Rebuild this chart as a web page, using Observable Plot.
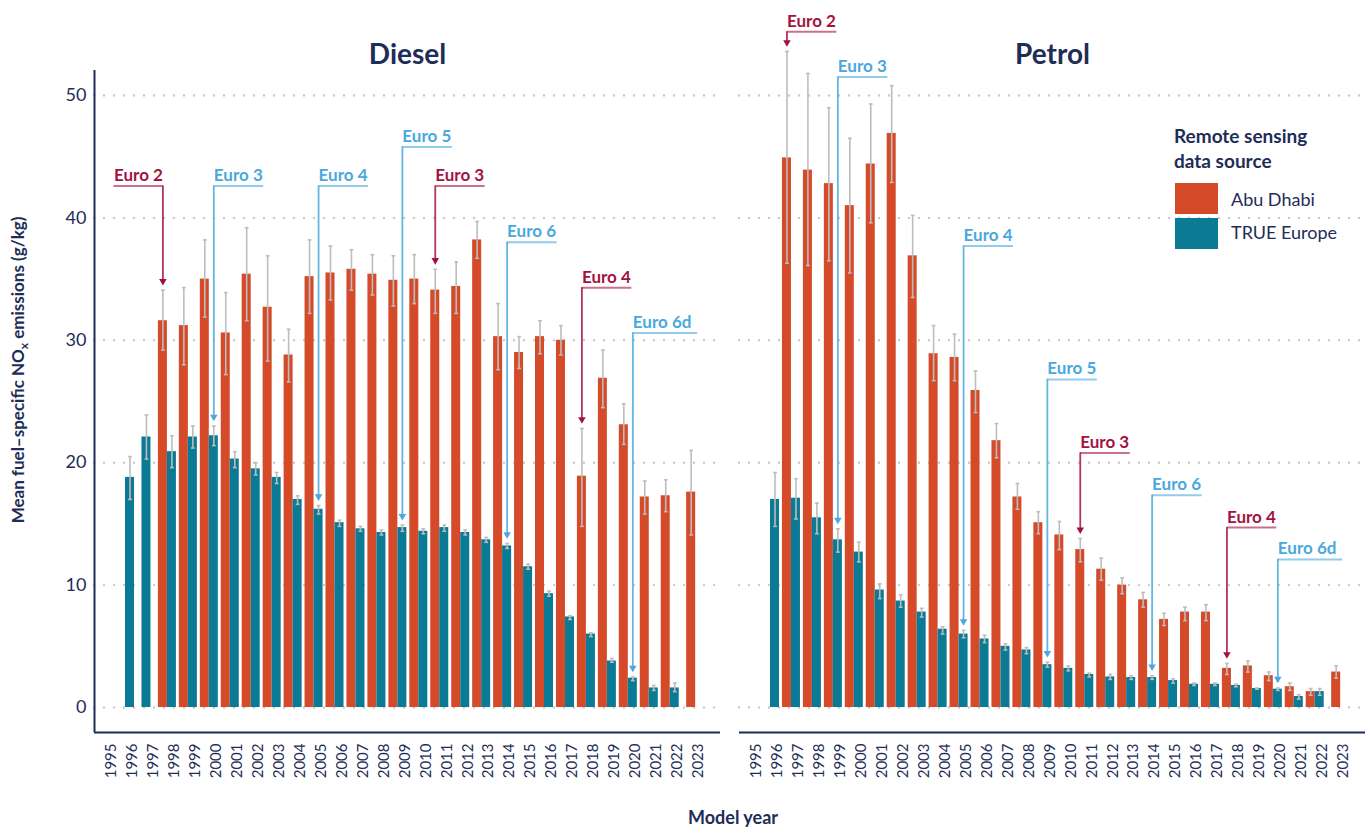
<!DOCTYPE html>
<html>
<head>
<meta charset="utf-8">
<script src="https://cdn.jsdelivr.net/npm/d3@7"></script>
<script src="https://cdn.jsdelivr.net/npm/@observablehq/plot@0.6"></script>
<style>
  body { margin: 0; background: #fff; }
  #chart { width: 1371px; height: 829px; }
</style>
</head>
<body>
<div id="chart"></div>
<script>
// ---------- DATA ----------
const years = [1995,1996,1997,1998,1999,2000,2001,2002,2003,2004,2005,2006,2007,2008,2009,2010,2011,2012,2013,2014,2015,2016,2017,2018,2019,2020,2021,2022,2023];
const fuels = ["Diesel", "Petrol"];
const sources = ["Abu Dhabi", "TRUE Europe"];
const yTicks = [0, 10, 20, 30, 40, 50];

// Diesel, Abu Dhabi
const dieselAD   = [null,0,null,31.6,31.2,35.0,30.6,35.4,32.7,28.8,35.2,35.5,35.8,35.4,34.9,35.0,34.1,34.4,38.2,30.3,29.0,30.3,30.0,18.9,26.9,23.1,17.2,17.3,17.6];
const dieselADlo = [null,null,null,29.2,28.0,31.9,27.2,31.6,28.3,26.6,32.2,33.3,34.1,33.7,32.8,33.0,32.2,32.2,36.7,27.6,27.7,28.9,28.8,14.8,24.5,21.5,15.8,16.0,14.1];
const dieselADhi = [null,null,null,34.1,34.3,38.2,33.9,39.2,36.9,30.9,38.2,37.7,37.4,37.0,36.9,37.0,35.8,36.4,39.7,33.0,30.3,31.6,31.2,22.8,29.2,24.8,18.5,18.6,21.0];
// Diesel, TRUE Europe
const dieselTR   = [null,18.8,22.1,20.9,22.1,22.2,20.3,19.5,18.8,17.0,16.2,15.1,14.6,14.3,14.7,14.4,14.7,14.3,13.7,13.2,11.5,9.3,7.4,6.0,3.8,2.4,1.6,1.6,null];
const dieselTRlo = [null,17.0,20.3,19.6,21.2,21.4,19.6,19.0,18.3,16.6,15.8,14.8,14.4,14.1,14.4,14.2,14.4,14.1,13.5,13.0,11.3,9.1,7.2,5.8,3.7,2.2,1.4,1.3,null];
const dieselTRhi = [null,20.5,23.9,22.2,23.0,23.0,20.9,20.0,19.2,17.3,16.5,15.3,14.8,14.5,14.9,14.6,14.9,14.5,13.9,13.4,11.7,9.5,7.5,6.1,4.0,2.5,1.8,2.0,null];
// Petrol, Abu Dhabi
const petrolAD   = [null,0,44.9,43.9,42.8,41.0,44.4,46.9,36.9,28.9,28.6,25.9,21.8,17.2,15.1,14.1,12.9,11.3,10.0,8.8,7.2,7.8,7.8,3.2,3.4,2.6,1.7,1.3,2.9];
const petrolADlo = [null,null,36.3,36.1,36.5,35.5,39.6,42.9,33.5,26.7,26.7,24.1,20.4,16.2,14.2,12.9,11.9,10.4,9.3,8.2,6.7,7.1,7.1,2.7,2.9,2.2,1.4,1.0,2.4];
const petrolADhi = [null,null,53.6,51.8,49.0,46.5,49.3,50.8,40.2,31.2,30.5,27.5,23.2,18.3,16.0,15.2,13.8,12.2,10.6,9.4,7.7,8.2,8.4,3.6,3.8,2.9,2.0,1.55,3.4];
// Petrol, TRUE Europe
const petrolTR   = [null,17.0,17.1,15.5,13.7,12.7,9.6,8.7,7.8,6.4,6.0,5.6,5.0,4.7,3.5,3.2,2.7,2.5,2.45,2.45,2.2,1.9,1.9,1.8,1.55,1.5,0.9,1.3,null];
const petrolTRlo = [null,14.8,15.4,14.2,12.7,11.9,8.9,8.2,7.4,6.0,5.7,5.3,4.7,4.4,3.3,3.0,2.5,2.3,2.3,2.3,2.0,1.8,1.8,1.7,1.5,1.4,0.7,1.0,null];
const petrolTRhi = [null,19.2,18.7,16.7,14.6,13.5,10.1,9.2,8.1,6.6,6.3,5.9,5.2,4.9,3.7,3.4,2.8,2.7,2.6,2.6,2.35,2.0,2.0,1.9,1.6,1.6,1.05,1.55,null];

// Emission standard annotations
const annoFuel   = ["Diesel","Diesel","Diesel","Diesel","Diesel","Diesel","Diesel","Diesel","Petrol","Petrol","Petrol","Petrol","Petrol","Petrol","Petrol","Petrol"];
const annoLabel  = ["Euro 2","Euro 3","Euro 4","Euro 5","Euro 3","Euro 6","Euro 4","Euro 6d","Euro 2","Euro 3","Euro 4","Euro 5","Euro 3","Euro 6","Euro 4","Euro 6d"];
const annoYear   = [1998,2000,2005,2009,2011,2014,2018,2020,1997,1999,2005,2009,2011,2014,2018,2020];
const annoSource = ["Abu Dhabi","TRUE Europe","TRUE Europe","TRUE Europe","Abu Dhabi","TRUE Europe","Abu Dhabi","TRUE Europe","Abu Dhabi","TRUE Europe","TRUE Europe","TRUE Europe","Abu Dhabi","TRUE Europe","Abu Dhabi","TRUE Europe"];
const annoLevel  = [42.6,42.6,42.6,45.8,42.6,38.0,34.3,30.6,55.2,51.5,37.7,26.8,20.8,17.35,14.7,12.1];
const annoSide   = ["left","right","right","right","right","right","right","right","right","right","right","right","right","right","right","right"];

// ---------- STYLE ----------
const navy = "#1e2d58", orange = "#d54b2a", teal = "#0b7a94";
const red = "#a3123f", blue = "#4aa8de", errGray = "#bdbdbd", gridGray = "#c9c9c9";
const font = "Lato, 'Open Sans', sans-serif";
const BW = 0.43;                     // bar width in years
const xDomain = [1994.52, 2024.4];
const yDomain = [-2.04, 52.04];

// ---------- BUILD TABLE ----------
function series(fuel, ad, adLo, adHi, tr, trLo, trHi) {
  const out = [];
  years.forEach((yr, i) => {
    const hasA = ad[i] != null, hasT = tr[i] != null, both = hasA && hasT;
    if (hasA) out.push({fuel, year: yr, source: sources[0], value: ad[i], lo: adLo[i], hi: adHi[i], x1: both ? yr - BW : yr - BW / 2});
    if (hasT) out.push({fuel, year: yr, source: sources[1], value: tr[i], lo: trLo[i], hi: trHi[i], x1: both ? yr : yr - BW / 2});
  });
  out.forEach(d => { d.x2 = d.x1 + BW; d.xc = d.x1 + BW / 2; });
  return out;
}
const rows = [
  ...series("Diesel", dieselAD, dieselADlo, dieselADhi, dieselTR, dieselTRlo, dieselTRhi),
  ...series("Petrol", petrolAD, petrolADlo, petrolADhi, petrolTR, petrolTRlo, petrolTRhi)
];
const errRows = rows.filter(d => d.lo != null && d.hi != null);

const annos = annoLabel.map((label, i) => {
  const bar = rows.find(r => r.fuel === annoFuel[i] && r.year === annoYear[i] && r.source === annoSource[i]);
  const dir = annoSide[i] === "left" ? -1 : 1;
  return {
    fuel: annoFuel[i], label, source: annoSource[i], side: annoSide[i],
    x: bar.xc, tip: bar.hi != null ? bar.hi : bar.value, level: annoLevel[i],
    xEnd: bar.xc + dir * (0.71 * label.length - 1.9)
  };
});

function annoMarks(list, color, anchor) {
  if (!list.length) return [];
  return [
    Plot.link(list, {fx: "fuel", x1: "x", x2: "xEnd", y1: "level", y2: "level", stroke: color, strokeOpacity: 0.6, strokeWidth: 2}),
    Plot.arrow(list, {fx: "fuel", x1: "x", x2: "x", y1: "level", y2: "tip", stroke: color, strokeOpacity: 0.85, strokeWidth: 1.8, headLength: 0, insetEnd: 9}),
    Plot.dot(list, {fx: "fuel", x: "x", y: "tip", symbol: "triangle", r: 2.8, rotate: 180, fill: color, stroke: "none", dy: -9}),
    Plot.text(list, {fx: "fuel", x: "x", y: "level", text: "label", textAnchor: anchor, lineAnchor: "bottom", dy: -5, fontSize: 17, fontWeight: 700, fill: color})
  ];
}
const pick = (src, side) => annos.filter(a => a.source === src && a.side === side);

const chart = Plot.plot({
  width: 1371, height: 829,
  marginTop: 70, marginBottom: 97, marginLeft: 94, marginRight: 6,
  style: {fontFamily: font, color: navy, background: "white", overflow: "visible"},
  fx: {domain: fuels, axis: null, paddingInner: 0.0295, paddingOuter: 0},
  x: {type: "linear", domain: xDomain},
  y: {domain: yDomain},
  color: {domain: sources, range: [orange, teal]},
  marks: [
    Plot.gridY(yTicks, {stroke: gridGray, strokeOpacity: 1, strokeWidth: 2.4, strokeDasharray: "0,10", strokeLinecap: "round"}),
    Plot.rectY(rows, {fx: "fuel", x1: "x1", x2: "x2", y: "value", fill: "source"}),
    Plot.ruleX(errRows, {fx: "fuel", x: "xc", y1: "lo", y2: "hi", stroke: errGray, strokeWidth: 1.6}),
    Plot.link(errRows, {fx: "fuel", x1: d => d.xc - 0.09, x2: d => d.xc + 0.09, y1: "hi", y2: "hi", stroke: errGray, strokeWidth: 1.6}),
    Plot.link(errRows, {fx: "fuel", x1: d => d.xc - 0.09, x2: d => d.xc + 0.09, y1: "lo", y2: "lo", stroke: errGray, strokeWidth: 1.6}),
    Plot.ruleY([yDomain[0]], {stroke: navy, strokeWidth: 2}),
    Plot.ruleX([{fuel: "Diesel"}], {fx: "fuel", x: () => xDomain[0], stroke: navy, strokeWidth: 2}),
    Plot.axisY(yTicks, {tickSize: 0, tickPadding: 8, fontSize: 18, label: null}),
    Plot.axisX(years, {tickSize: 0, tickPadding: 11, tickRotate: -90, fontSize: 15, label: null, tickFormat: d => String(d), dx: 7}),
    ...annoMarks(pick("TRUE Europe", "right"), blue, "start"),
    ...annoMarks(pick("Abu Dhabi", "right"), red, "start"),
    ...annoMarks(pick("Abu Dhabi", "left"), red, "end"),
    Plot.text(fuels, {fx: d => d, text: d => d, frameAnchor: "top", lineAnchor: "bottom", dy: -7, fontSize: 28, fontWeight: 700, fill: navy})
  ]
});
document.getElementById("chart").appendChild(chart);

// ---------- axis titles and legend ----------
const svg = d3.select(chart);
const yl = svg.append("text")
  .attr("transform", "translate(24,370) rotate(-90)")
  .attr("text-anchor", "middle")
  .attr("font-family", font).attr("font-size", 17).attr("font-weight", 700).attr("fill", navy);
yl.append("tspan").text("Mean fuel\u2013specific NO");
yl.append("tspan").attr("font-size", 12).attr("dy", 4).text("x");
yl.append("tspan").attr("dy", -4).text(" emissions (g/kg)");

svg.append("text")
  .attr("x", 733).attr("y", 824).attr("text-anchor", "middle")
  .attr("font-family", font).attr("font-size", 18).attr("font-weight", 700).attr("fill", navy)
  .text("Model year");

const lg = svg.append("g").attr("font-family", font).attr("fill", navy).attr("text-anchor", "start");
lg.append("text").attr("x", 1174).attr("y", 143).attr("font-size", 19).attr("font-weight", 700).text("Remote sensing");
lg.append("text").attr("x", 1174).attr("y", 168).attr("font-size", 19).attr("font-weight", 700).text("data source");
sources.forEach((s, i) => {
  lg.append("rect").attr("x", 1175).attr("y", 183 + i * 35).attr("width", 43).attr("height", 31).attr("fill", i === 0 ? orange : teal);
  lg.append("text").attr("x", 1231).attr("y", 206 + i * 33).attr("font-size", 18).text(s);
});
</script>
</body>
</html>
